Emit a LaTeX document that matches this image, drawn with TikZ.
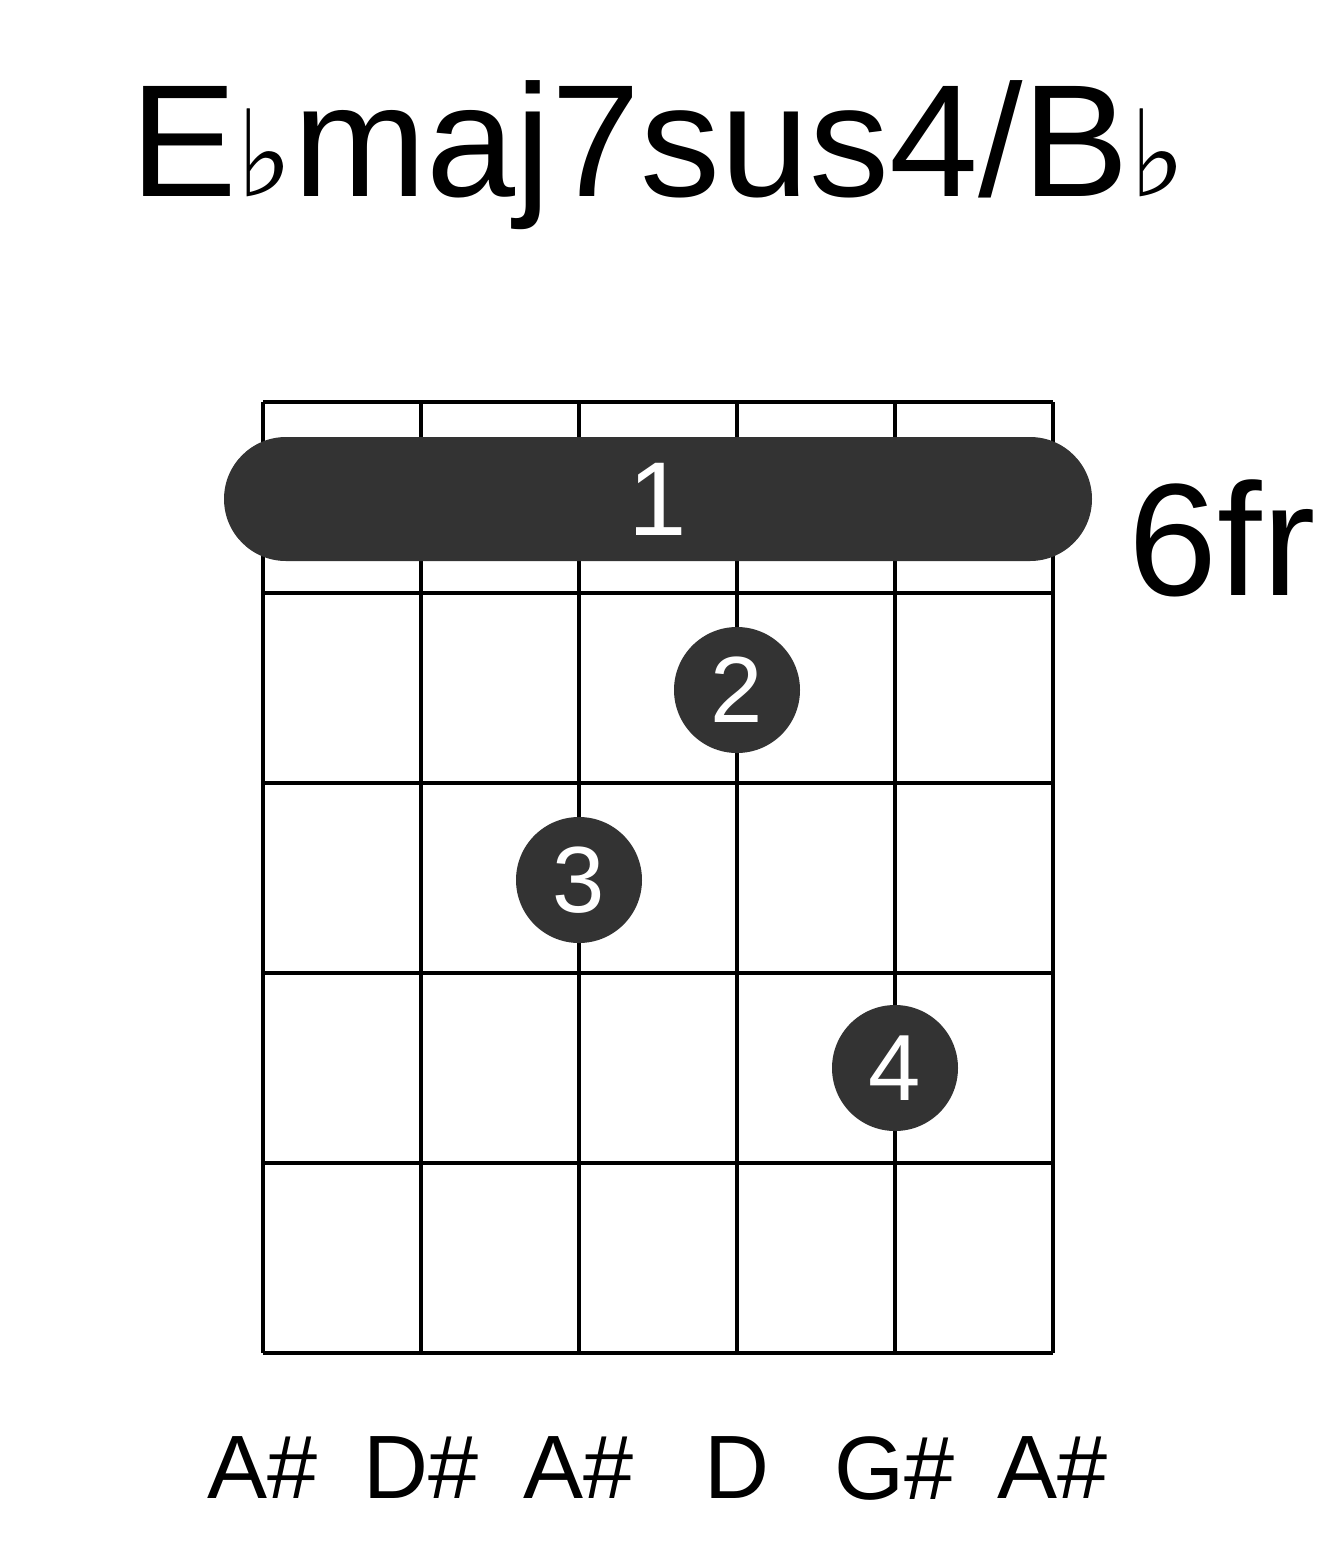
\documentclass[tikz,border=0pt]{standalone}
\usepackage{fontspec}
\setmainfont{Liberation Sans}
\newfontfamily\djvfont{DejaVu Sans}
\definecolor{dk}{HTML}{333333}
\begin{document}
\begin{tikzpicture}[x=1pt,y=-1pt,
  grid/.style={line width=4pt,black},
  dot/.style={circle,fill=dk,minimum size=126pt,inner sep=0pt,text=white,font=\fontsize{94}{94}\selectfont},
  lab/.style={font=\fontsize{90}{90}\selectfont}]
\useasboundingbox (0,0) rectangle (1317,1551);
\node (title) at (658,155) {\fontsize{160}{160}\selectfont E{\djvfont\fontsize{120}{120}\selectfont ♭}maj7sus4/B{\djvfont\fontsize{120}{120}\selectfont ♭}};
\foreach \x in {263,421,579,737,895,1053} \draw[grid] (\x,402) -- (\x,1353);
\foreach \y in {402,593,783,973,1163,1353} \draw[grid] (263,\y) -- (1053,\y);
\node[fill=dk,rounded corners=62pt,minimum width=868pt,minimum height=124pt,inner sep=0pt,text=white,font=\fontsize{105}{105}\selectfont] (barre) at (658,499) {1};
\node[dot] (d2) at (737,690) {2};
\node[dot] (d3) at (579,880) {3};
\node[dot] (d4) at (895,1068) {4};
\node[font=\fontsize{160}{160}\selectfont] (fr) at (1222,538) {6fr};
\foreach \x/\t in {263/A\#,421/D\#,579/A\#,737/D,895/G\#,1053/A\#}
  \node[lab] at (\x,1468) {\t};
\end{tikzpicture}
\end{document}
